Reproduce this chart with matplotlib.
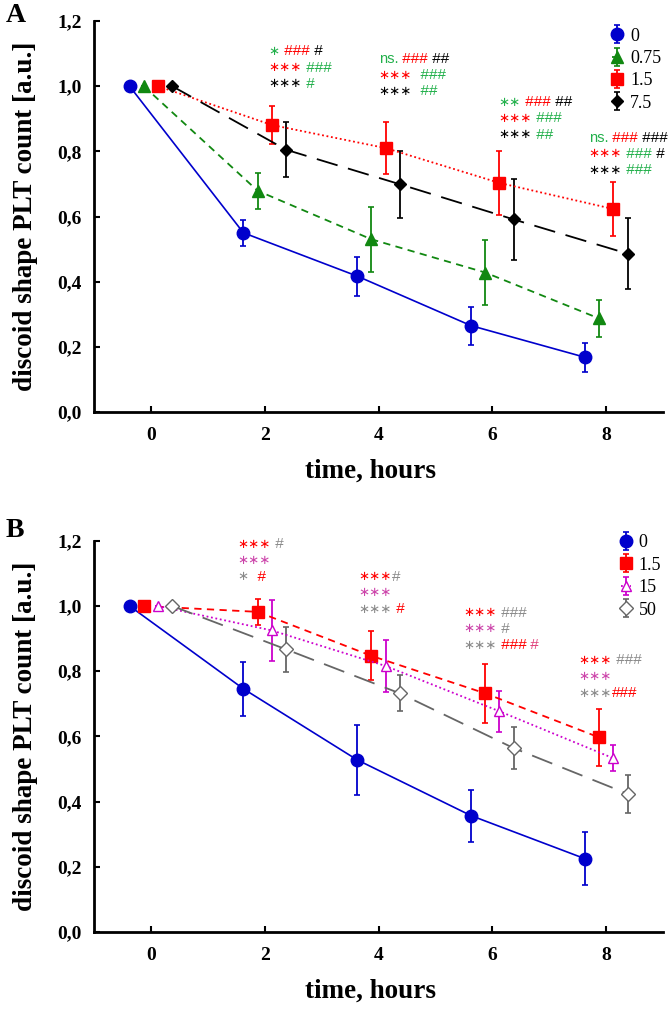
import matplotlib
matplotlib.use("Agg")
import matplotlib.pyplot as plt
from matplotlib.ticker import FixedLocator, FuncFormatter

# data
hours = [0, 2, 4, 6, 8]

# panel A
a_labels = ["0", "0.75", "1.5", "7.5"]
a_0 = [1.0, 0.55, 0.417, 0.265, 0.168]
a_0_err = [0, 0.04, 0.06, 0.058, 0.045]
a_075 = [1.0, 0.679, 0.53, 0.428, 0.287]
a_075_err = [0, 0.056, 0.1, 0.1, 0.058]
a_15 = [1.0, 0.881, 0.81, 0.703, 0.623]
a_15_err = [0, 0.058, 0.08, 0.098, 0.082]
a_75 = [1.0, 0.805, 0.699, 0.591, 0.486]
a_75_err = [0, 0.085, 0.103, 0.125, 0.11]

# panel B
b_labels = ["0", "1.5", "15", "50"]
b_0 = [1.0, 0.746, 0.528, 0.357, 0.225]
b_0_err = [0, 0.082, 0.108, 0.08, 0.082]
b_15 = [1.0, 0.982, 0.847, 0.732, 0.597]
b_15_err = [0, 0.04, 0.075, 0.09, 0.087]
b_150 = [1.0, 0.925, 0.816, 0.677, 0.533]
b_150_err = [0, 0.093, 0.08, 0.063, 0.04]
b_50 = [1.0, 0.867, 0.732, 0.564, 0.424]
b_50_err = [0, 0.068, 0.055, 0.064, 0.058]

yticks = [0.0, 0.2, 0.4, 0.6, 0.8, 1.0, 1.2]
xticks = [0, 2, 4, 6, 8]

GREEN_T = "#22b04b"
RED = "#ff0000"
MAG_T = "#cc44aa"
GREY_T = "#8a8a8a"

S1, S2, S3 = "\u2217", "\u2217\u2217", "\u2217\u2217\u2217"

# significance marks: (hour, list of lines, each line = list of (text, colour))
a_marks = [
    (2.07, [[(S1, GREEN_T), (" ###", RED), (" #", "black")],
            [(S3, RED), (" ###", GREEN_T)],
            [(S3, "black"), (" #", GREEN_T)]]),
    (4.0, [[("ns.", GREEN_T), (" ###", RED), (" ##", "black")],
           [(S3, RED), ("  ###", GREEN_T)],
           [(S3, "black"), ("  ##", GREEN_T)]]),
    (6.11, [[(S2, GREEN_T), (" ###", RED), (" ##", "black")],
            [(S3, RED), (" ###", GREEN_T)],
            [(S3, "black"), (" ##", GREEN_T)]]),
    (7.69, [[("ns.", GREEN_T), (" ###", RED), (" ###", "black")],
            [(S3, RED), (" ###", GREEN_T), (" #", "black")],
            [(S3, "black"), (" ###", GREEN_T)]]),
]
a_mark_y = [1.107, 1.084, 0.951, 0.842]

b_marks = [
    (1.52, [[(S3, RED), (" #", GREY_T)],
            [(S3, MAG_T)],
            [(S1, GREY_T), ("  #", RED)]]),
    (3.65, [[(S3, RED), ("#", GREY_T)],
            [(S3, MAG_T)],
            [(S3, GREY_T), (" #", RED)]]),
    (5.49, [[(S3, RED), (" ###", GREY_T)],
            [(S3, MAG_T), (" #", GREY_T)],
            [(S3, GREY_T), (" ###", RED), (" #", "#e0407a")]]),
    (7.51, [[(S3, RED), (" ###", GREY_T)],
            [(S3, MAG_T)],
            [(S3, GREY_T), ("###", RED)]]),
]
b_mark_y = [1.19, 1.09, 0.98, 0.833]

offsets = [-0.375, -0.125, 0.125, 0.375]
SERIF = "Liberation Serif"
SANS = "Liberation Sans"


def part_font(s):
    if "\u2217" in s:
        return "DejaVu Sans", 9.5
    if "#" in s:
        return SANS, 11
    return SANS, 10.5


def rich_text(ax, x, y, parts):
    fam, fs = part_font(parts[0][0])
    t = ax.text(x, y, parts[0][0], color=parts[0][1], fontsize=fs,
                family=fam, va="center", ha="left")
    for s, c in parts[1:]:
        fam, fs = part_font(s)
        t = ax.annotate(s, xy=(1, 0.5), xycoords=t, va="center", ha="left",
                        color=c, fontsize=fs, family=fam)


def style_axes(ax):
    ax.set_xlim(-1, 9)
    ax.set_ylim(0, 1.2)
    ax.spines["top"].set_visible(False)
    ax.spines["right"].set_visible(False)
    ax.spines["left"].set_linewidth(2)
    ax.spines["bottom"].set_linewidth(2)
    ax.yaxis.set_major_locator(FixedLocator(yticks))
    ax.xaxis.set_major_locator(FixedLocator(xticks))
    ax.yaxis.set_major_formatter(FuncFormatter(lambda v, p: f"{v:.1f}".replace(".", ",")))
    ax.tick_params(direction="in", length=4, width=1.5, pad=9)
    ax.tick_params(axis="x", pad=10.5)
    for lab in ax.get_xticklabels() + ax.get_yticklabels():
        lab.set_family(SERIF)
        lab.set_fontweight("bold")
        lab.set_fontsize(14)
    ax.set_ylabel("discoid shape PLT count [a.u.]", family=SERIF,
                  fontweight="bold", fontsize=19.5, labelpad=14)
    ax.set_xlabel("time, hours", family=SERIF, fontweight="bold",
                  fontsize=19.5)
    ax.xaxis.set_label_coords(0.485, -0.12)


def draw_series(ax, i, vals, errs, **kw):
    xs = [h + offsets[i] for h in hours]
    return ax.errorbar(xs, vals, yerr=errs, capsize=2.5, elinewidth=1.3,
                       capthick=1.2, **kw)


fig = plt.figure(figsize=(6.68, 10.11), dpi=100)
axA = fig.add_axes([0.1407, 0.5925, 0.852, 0.3867])
axB = fig.add_axes([0.1407, 0.0781, 0.852, 0.387])

# panel A
hA = []
hA.append(draw_series(axA, 0, a_0, a_0_err, color="#0000cc", marker="o",
                      ms=9, lw=1.2, ls="-"))
hA.append(draw_series(axA, 1, a_075, a_075_err, color="#118811", marker="^",
                      ms=8, lw=1.3, ls=(0, (4, 3))))
hA.append(draw_series(axA, 2, a_15, a_15_err, color=RED, marker="s",
                      ms=9, lw=1.3, ls=(0, (1, 1.5))))
hA.append(draw_series(axA, 3, a_75, a_75_err, color="black", marker="D",
                      ms=6, lw=1.3, ls=(0, (12, 6))))
for (hx, lines), y0 in zip(a_marks, a_mark_y):
    for k, parts in enumerate(lines):
        rich_text(axA, hx, y0 - k * 0.05, parts)
style_axes(axA)
axA.legend(hA, a_labels, loc="upper right", bbox_to_anchor=(1.025, 1.025),
           frameon=False, handlelength=0.6, handletextpad=0.4,
           labelspacing=0.3, prop={"family": SERIF, "size": 13})

# panel B
hB = []
hB.append(draw_series(axB, 0, b_0, b_0_err, color="#0000cc", marker="o",
                      ms=9, lw=1.2, ls="-"))
hB.append(draw_series(axB, 1, b_15, b_15_err, color=RED, marker="s",
                      ms=9, lw=1.3, ls=(0, (4, 3))))
hB.append(draw_series(axB, 2, b_150, b_150_err, color="#cc00cc", marker="^",
                      ms=7.5, lw=1.3, ls=(0, (1, 1.5)), mfc="white"))
hB.append(draw_series(axB, 3, b_50, b_50_err, color="#666666", marker="D",
                      ms=7, lw=1.3, ls=(0, (12, 6)), mfc="white"))
for (hx, lines), y0 in zip(b_marks, b_mark_y):
    for k, parts in enumerate(lines):
        rich_text(axB, hx, y0 - k * 0.05, parts)
style_axes(axB)
axB.legend(hB, b_labels, loc="upper right", bbox_to_anchor=(1.025, 1.058),
           frameon=False, handlelength=0.6, handletextpad=0.4,
           labelspacing=0.3, prop={"family": SERIF, "size": 13})

fig.text(0.008, 0.997, "A", family=SERIF, fontweight="bold", fontsize=20,
         va="top")
fig.text(0.008, 0.488, "B", family=SERIF, fontweight="bold", fontsize=20,
         va="top")

fig.savefig("out.png", dpi=100)
